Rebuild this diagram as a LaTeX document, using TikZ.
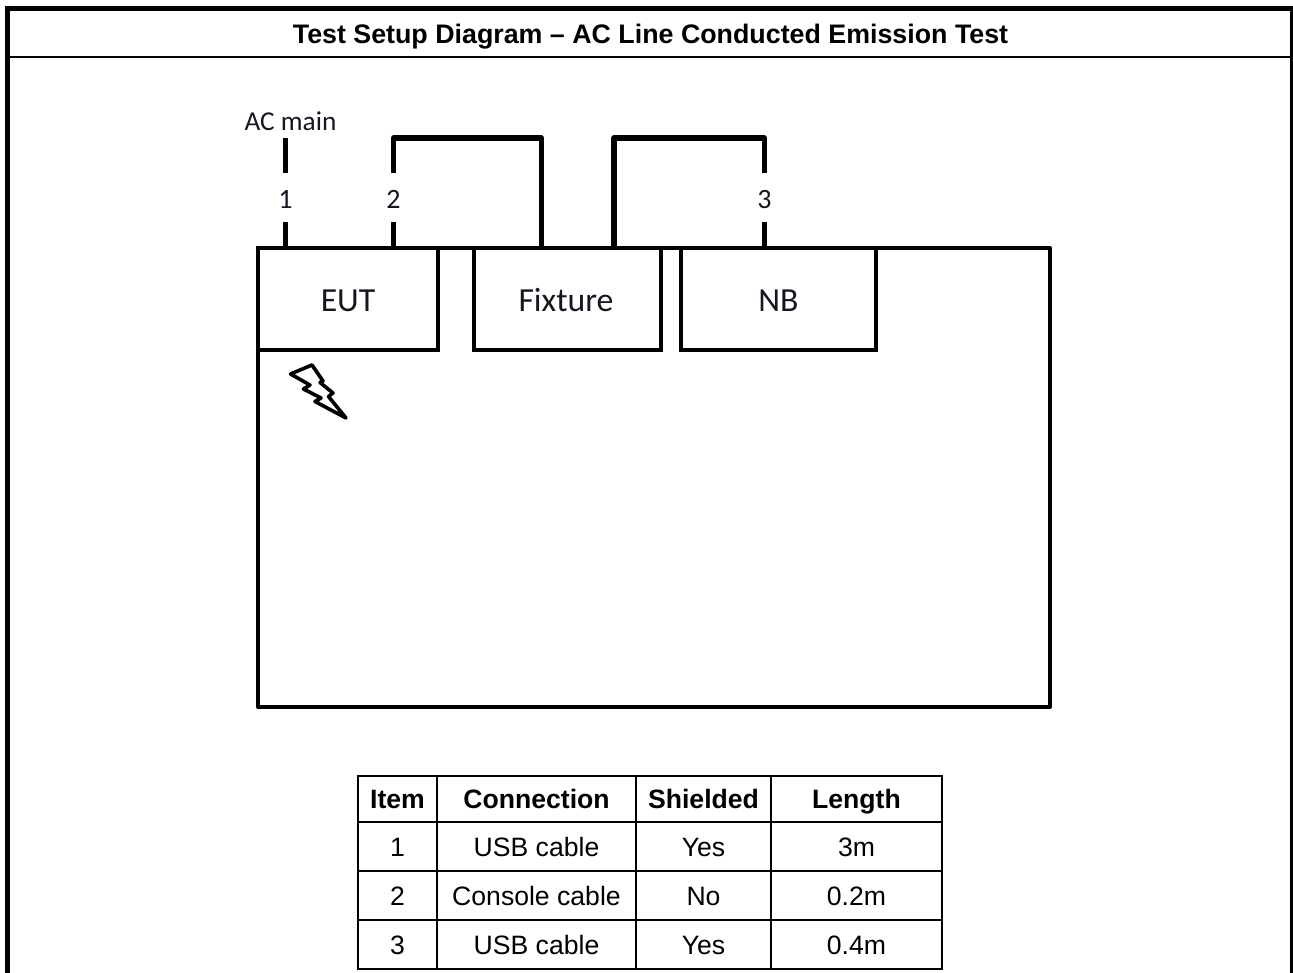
\documentclass[tikz,border=0pt]{standalone}
\usepackage{fontspec}
\setmainfont{Liberation Sans}
\newfontfamily\calib{Carlito}
\definecolor{inkc}{RGB}{22,22,34}
\tikzset{
  boxnode/.style={draw=black,line width=4.6pt,inner sep=0pt,outer sep=0pt,anchor=north west,text height=26pt,text depth=0pt,font=\calib\fontsize{33.7}{36}\selectfont,text=inkc},
  wire/.style={draw=black,line width=5.4pt,line join=round},
  wirelabel/.style={inner sep=0pt,outer sep=0pt,minimum width=20pt,minimum height=49pt,text height=22pt,text depth=0pt,font=\calib\fontsize{28}{30}\selectfont,text=inkc},
  cell/.style={draw=black,line width=2pt,inner sep=0pt,outer sep=0pt,anchor=north west,text height=19pt,text depth=0pt,font=\fontsize{26.6}{29}\selectfont},
  headcell/.style={cell,font=\bfseries\fontsize{26.6}{29}\selectfont}
}
\begin{document}
\begin{tikzpicture}[x=1pt,y=-1pt]
\useasboundingbox (0,0) rectangle (1293,973);
\clip (0,0) rectangle (1293,973);
\fill[white] (0,0) rectangle (1293,973);
% outer frame
\draw[black,line width=5pt] (7.5,980) -- (7.5,8.5) -- (1292.5,8.5) -- (1292.5,980);
\draw[black,line width=2.2pt] (7.5,57) -- (1292.5,57);
\node[anchor=base,font=\bfseries\fontsize{26.8}{30}\selectfont] (title) at (650.5,44) {Test Setup Diagram -- AC Line Conducted Emission Test};
% main enclosure
\draw[black,line width=4pt,line join=round] (258,248) rectangle (1050,707);
\node[boxnode,minimum width=180pt,minimum height=102pt] (eut) at (258,248) {EUT};
\node[boxnode,minimum width=187pt,minimum height=102pt] (fix) at (474,248) {\hspace*{-3pt}Fixture};
\node[boxnode,minimum width=195pt,minimum height=102pt] (nb) at (681,248) {NB};
% labels
\node[anchor=base,font=\calib\fontsize{27.3}{30}\selectfont,text=inkc] (ac) at (290.5,130.5) {AC main};
\node[wirelabel] (n1) at (285.5,197.5) {1};
\node[wirelabel] (n2) at (393.5,197.5) {2};
\node[wirelabel] (n3) at (764.5,197.5) {3};
\coordinate (a1) at (285.5,138);
\coordinate (t2) at (393.5,138);
\coordinate (t3) at (764.5,138);
% wires
\draw[wire] (a1) -- (n1.north);
\draw[wire] (n1.south) -- (n1.south |- eut.north);
\draw[wire] (n2.north) -- (t2) -| (541.5,248);
\draw[wire] (n2.south) -- (n2.south |- eut.north);
\draw[wire] (n3.north) -- (t3) -| (614,248);
\draw[wire] (n3.south) -- (n3.south |- nb.north);
% lightning
\draw[black,line width=3.6pt,line join=round]
  (290.5,374) -- (312,365) -- (323,381) -- (320,382.5) -- (333,393) -- (328.5,396.5) -- (346,418)
  -- (315,401.5) -- (321,398) -- (303.5,389) -- (310,385) -- cycle;
% table
\node[headcell,minimum width=79pt,minimum height=46pt] (h1) at (358,776) {Item};
\node[headcell,minimum width=199pt,minimum height=46pt] (h2) at (437,776) {Connection};
\node[headcell,minimum width=135pt,minimum height=46pt] (h3) at (636,776) {Shielded};
\node[headcell,minimum width=171pt,minimum height=46pt] (h4) at (771,776) {Length};
\node[cell,minimum width=79pt,minimum height=49pt] (a1c) at (358,822) {1};
\node[cell,minimum width=199pt,minimum height=49pt] (a2c) at (437,822) {USB cable};
\node[cell,minimum width=135pt,minimum height=49pt] (a3c) at (636,822) {Yes};
\node[cell,minimum width=171pt,minimum height=49pt] (a4c) at (771,822) {3m};
\node[cell,minimum width=79pt,minimum height=49pt] (b1c) at (358,871) {2};
\node[cell,minimum width=199pt,minimum height=49pt] (b2c) at (437,871) {Console cable};
\node[cell,minimum width=135pt,minimum height=49pt] (b3c) at (636,871) {No};
\node[cell,minimum width=171pt,minimum height=49pt] (b4c) at (771,871) {0.2m};
\node[cell,minimum width=79pt,minimum height=49pt] (c1c) at (358,920) {3};
\node[cell,minimum width=199pt,minimum height=49pt] (c2c) at (437,920) {USB cable};
\node[cell,minimum width=135pt,minimum height=49pt] (c3c) at (636,920) {Yes};
\node[cell,minimum width=171pt,minimum height=49pt] (c4c) at (771,920) {0.4m};
\end{tikzpicture}
\end{document}
